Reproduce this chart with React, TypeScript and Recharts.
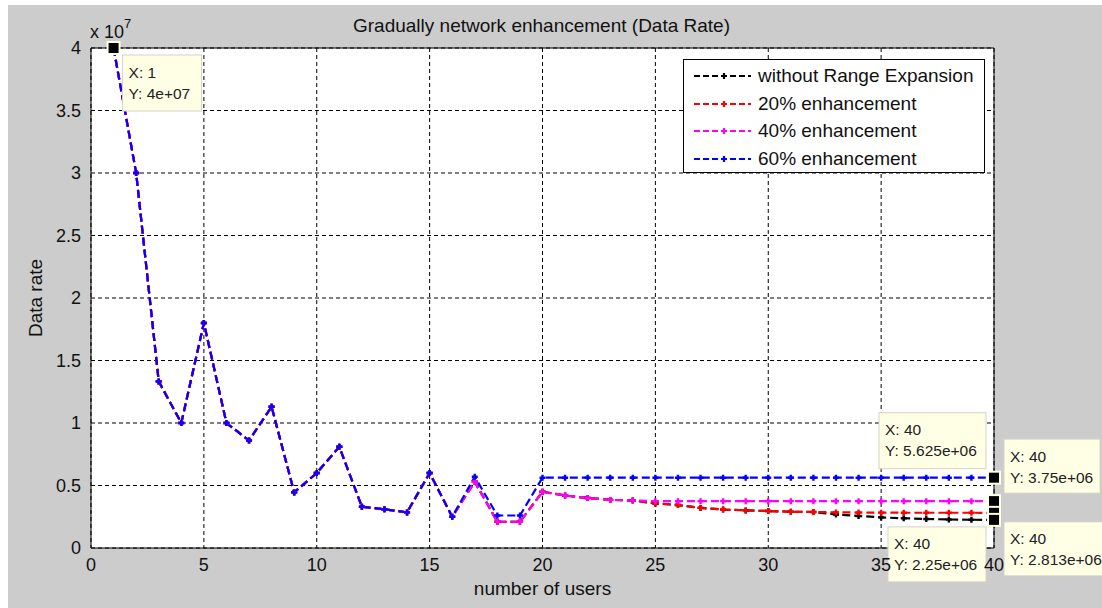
import React from "react";
import {
  LineChart,
  Line,
  XAxis,
  YAxis,
  CartesianGrid,
  ReferenceLine,
  ReferenceDot,
  Legend,
} from "recharts";

const FONT = "'Liberation Sans', Arial, Helvetica, sans-serif";

// number of users (x)
const users = [
  1, 2, 3, 4, 5, 6, 7, 8, 9, 10, 11, 12, 13, 14, 15, 16, 17, 18, 19, 20,
  21, 22, 23, 24, 25, 26, 27, 28, 29, 30, 31, 32, 33, 34, 35, 36, 37, 38, 39, 40,
];

// data rate, in units of 1e6
const withoutRE = [
  40, 30, 13.33, 10, 18, 10, 8.6, 11.3, 4.45, 6.0, 8.1, 3.3, 3.1, 2.85, 6.0, 2.5, 5.3, 2.1, 2.1, 4.5,
  4.2, 4.0, 3.85, 3.8, 3.57, 3.44, 3.21, 3.08, 3.01, 2.96, 2.9, 2.88, 2.68, 2.56, 2.45, 2.38, 2.32, 2.28, 2.26, 2.25,
];
const enh20 = [
  40, 30, 13.33, 10, 18, 10, 8.6, 11.3, 4.45, 6.0, 8.1, 3.3, 3.1, 2.85, 6.0, 2.5, 5.3, 2.1, 2.1, 4.5,
  4.2, 4.0, 3.85, 3.8, 3.57, 3.44, 3.21, 3.08, 3.01, 2.96, 2.9, 2.88, 2.85, 2.84, 2.83, 2.82, 2.82, 2.82, 2.82, 2.8125,
];
const enh40 = [
  40, 30, 13.33, 10, 18, 10, 8.6, 11.3, 4.45, 6.0, 8.1, 3.3, 3.1, 2.85, 6.0, 2.5, 5.3, 2.1, 2.1, 4.5,
  4.2, 4.0, 3.85, 3.8, 3.75, 3.75, 3.75, 3.75, 3.75, 3.75, 3.75, 3.75, 3.75, 3.75, 3.75, 3.75, 3.75, 3.75, 3.75, 3.75,
];
const enh60 = [
  40, 30, 13.33, 10, 18, 10, 8.6, 11.3, 4.45, 6.0, 8.1, 3.3, 3.1, 2.85, 6.0, 2.5, 5.7, 2.6, 2.6, 5.625,
  5.625, 5.625, 5.625, 5.625, 5.625, 5.625, 5.625, 5.625, 5.625, 5.625, 5.625, 5.625, 5.625, 5.625, 5.625, 5.625, 5.625, 5.625, 5.625, 5.625,
];

const xTicks = [0, 5, 10, 15, 20, 25, 30, 35, 40];
const yTicks = [0, 5e6, 1e7, 1.5e7, 2e7, 2.5e7, 3e7, 3.5e7, 4e7];

const series = [
  { key: "withoutRE", name: "without Range Expansion", color: "#000000", values: withoutRE },
  { key: "enh20", name: "20% enhancement", color: "#ff0000", values: enh20 },
  { key: "enh40", name: "40% enhancement", color: "#ff00ff", values: enh40 },
  { key: "enh60", name: "60% enhancement", color: "#0000ff", values: enh60 },
];

const data = users.map((u, i) => {
  const row: Record<string, number> = { x: u };
  series.forEach((s) => {
    row[s.key] = s.values[i] * 1e6;
  });
  return row;
});

// data tips: which series / point, and where its box sits relative to the marker
const tips = [
  { key: "enh60", idx: 0, bx: 9, by: 7, w: 79, h: 56 },
  { key: "enh60", idx: 39, bx: -115, by: -65, w: 107, h: 56 },
  { key: "enh40", idx: 39, bx: 10, by: -62, w: 96, h: 54 },
  { key: "enh20", idx: 39, bx: 10, by: 9, w: 101, h: 54 },
  { key: "withoutRE", idx: 39, bx: -106, by: 7, w: 98, h: 55 },
];

function fmtExp(v: number): string {
  const [m, e] = v.toExponential(3).split("e");
  const mant = m.replace(/\.?0+$/, "");
  const sign = e[0];
  const digits = e.slice(1).padStart(2, "0");
  return `${mant}e${sign}${digits}`;
}

function Marker(props: any) {
  const { cx, cy, stroke } = props;
  if (cx == null || cy == null) return null;
  return (
    <path
      d={`M${cx - 3},${cy}H${cx + 3}M${cx},${cy - 3}V${cy + 3}`}
      stroke={stroke}
      strokeWidth={2.4}
      strokeDasharray="none"
      fill="none"
    />
  );
}

function TipShape({ cx, cy, tip, xv, yv }: any) {
  if (cx == null || cy == null) return null;
  const left = cx + tip.bx;
  const top = cy + tip.by;
  return (
    <g>
      <rect x={left} y={top} width={tip.w} height={tip.h} fill="#ffffe6" stroke="#d4d4c4" strokeWidth={1} />
      <text x={left + 6} y={top + 17} dominantBaseline="central" fontFamily={FONT} fontSize={15.5} fill="#222">
        {`X: ${xv}`}
      </text>
      <text x={left + 6} y={top + 38} dominantBaseline="central" fontFamily={FONT} fontSize={15.5} fill="#222">
        {`Y: ${fmtExp(yv)}`}
      </text>
      <rect x={cx - 7} y={cy - 7} width={14} height={14} fill="#ffffe6" />
      <rect x={cx - 5} y={cy - 5} width={10} height={10} fill="#000" />
    </g>
  );
}

function LegendBox() {
  const rowY = [16, 44, 71, 99];
  return (
    <div
      style={{
        position: "relative",
        width: 302,
        height: 114,
        border: "1px solid #000",
        background: "#fff",
        boxSizing: "border-box",
        fontFamily: FONT,
        fontSize: 19,
        color: "#111",
      }}
    >
      {series.map((s, i) => (
        <div key={s.key} style={{ position: "absolute", left: 0, top: rowY[i] - 11, height: 22, display: "flex", alignItems: "center" }}>
          <svg width={70} height={22} style={{ display: "block" }}>
            <line x1={10} y1={11} x2={67} y2={11} stroke={s.color} strokeWidth={2.2} strokeDasharray="6 3" />
            <path d={`M37,11H43M40,8V14`} stroke={s.color} strokeWidth={2.2} />
          </svg>
          <span style={{ marginLeft: 4, whiteSpace: "nowrap", lineHeight: "22px" }}>{s.name}</span>
        </div>
      ))}
    </div>
  );
}

export default function App() {
  return (
    <div style={{ position: "absolute", left: 0, top: 0, width: 1102, height: 608, background: "#fff", overflow: "hidden" }}>
      <div style={{ position: "absolute", left: 8, top: 5, right: 0, bottom: 0, background: "#cccccc" }} />
      <LineChart
        width={1102}
        height={608}
        data={data}
        margin={{ top: 48, right: 108, left: 41, bottom: 30 }}
        style={{ position: "absolute", left: 0, top: 0 }}
      >
        <CartesianGrid stroke="#000" strokeDasharray="4 3" fill="#fff" />
        <XAxis
          dataKey="x"
          type="number"
          domain={[0, 40]}
          ticks={xTicks}
          height={30}
          tickLine={false}
          tickSize={8}
          axisLine={{ stroke: "#000" }}
          tick={{ fill: "#111", fontSize: 18, fontFamily: FONT }}
          label={{ value: "number of users", position: "bottom", offset: 4, fill: "#111", fontSize: 19, fontFamily: FONT }}
        />
        <YAxis
          type="number"
          domain={[0, 4e7]}
          ticks={yTicks}
          width={50}
          tickLine={false}
          tickSize={8}
          axisLine={{ stroke: "#000" }}
          tickFormatter={(v: number) => String(v / 1e7)}
          tick={{ fill: "#111", fontSize: 18, fontFamily: FONT }}
          label={{
            value: "Data rate",
            angle: -90,
            position: "insideLeft",
            offset: -6,
            fill: "#111",
            fontSize: 19,
            fontFamily: FONT,
            style: { textAnchor: "middle" },
          }}
        />
        <ReferenceLine x={40} stroke="#000" strokeWidth={1} />
        <ReferenceLine y={4e7} stroke="#000" strokeWidth={1} />
        {series.map((s) => (
          <Line
            key={s.key}
            dataKey={s.key}
            name={s.name}
            stroke={s.color}
            strokeWidth={2.2}
            strokeDasharray="8 4"
            dot={<Marker />}
            activeDot={false}
            isAnimationActive={false}
          />
        ))}
        <Legend
          layout="horizontal"
          verticalAlign="middle"
          align="center"
          wrapperStyle={{ left: 683, top: 59, width: 302, height: 114 }}
          content={() => <LegendBox />}
        />
        {tips.map((t, i) => {
          const s = series.find((q) => q.key === t.key)!;
          const xv = users[t.idx];
          const yv = s.values[t.idx] * 1e6;
          return (
            <ReferenceDot
              key={i}
              x={xv}
              y={yv}
              ifOverflow="visible"
              zIndex={1000}
              shape={(p: any) => <TipShape {...p} tip={t} xv={xv} yv={yv} />}
            />
          );
        })}
      </LineChart>
      <div
        style={{
          position: "absolute",
          left: 0,
          width: 1083,
          top: 16,
          textAlign: "center",
          fontFamily: FONT,
          fontSize: 19,
          lineHeight: "19px",
          color: "#111",
          whiteSpace: "nowrap",
        }}
      >
        Gradually network enhancement (Data Rate)
      </div>
      <div
        style={{
          position: "absolute",
          left: 90,
          top: 23,
          fontFamily: FONT,
          fontSize: 18,
          lineHeight: "18px",
          color: "#111",
          whiteSpace: "nowrap",
        }}
      >
        x 10<sup style={{ fontSize: 13, verticalAlign: 0, position: "relative", top: -10 }}>7</sup>
      </div>
    </div>
  );
}
